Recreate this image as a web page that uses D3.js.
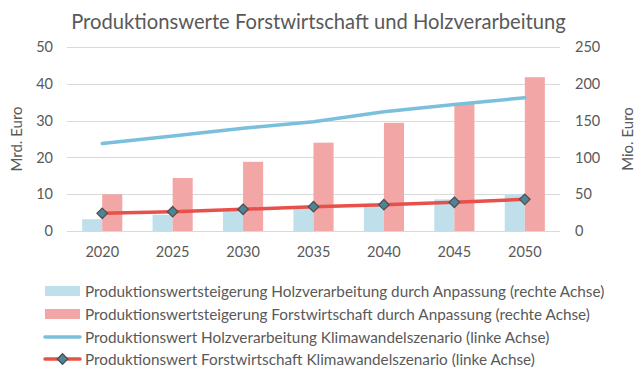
<!DOCTYPE html>
<html><head><meta charset="utf-8">
<script src="https://cdn.jsdelivr.net/npm/d3@7"></script>
<style>body{margin:0;background:#fff}svg{display:block}text{font-family:Lato,"Open Sans",sans-serif;fill:#595959}</style>
</head><body>
<script>
const years = ["2020","2025","2030","2035","2040","2045","2050"];
const holzBars = [16, 22, 28, 31, 37, 43, 50];
const forstBars = [50, 72, 94, 120, 147, 174, 209];
const holzLine = [23.8, 25.8, 27.9, 29.7, 32.4, 34.4, 36.2];
const forstLine = [4.8, 5.25, 5.9, 6.6, 7.15, 7.8, 8.6];
const leftTicks = [0,10,20,30,40,50];
const rightTicks = [0,50,100,150,200,250];
const legendLabels = [
 "Produktionswertsteigerung Holzverarbeitung durch Anpassung (rechte Achse)",
 "Produktionswertsteigerung Forstwirtschaft durch Anpassung (rechte Achse)",
 "Produktionswert Holzverarbeitung Klimawandelszenario (linke Achse)",
 "Produktionswert Forstwirtschaft Klimawandelszenario (linke Achse)"];

const W=644,H=379;
const svg=d3.select("body").append("svg").attr("width",W).attr("height",H);
const x0=67,x1=560,yTop=47,yBot=231;
const x=d3.scaleBand().domain(years).range([x0,x1]).paddingInner(0.43).paddingOuter(0.215);
const yL=d3.scaleLinear().domain([0,50]).range([yBot,yTop]);
const yR=d3.scaleLinear().domain([0,250]).range([yBot,yTop]);
const cx=d=>x(d)+x.bandwidth()/2;

svg.append("text").attr("x",318.5).attr("y",29).attr("text-anchor","middle").style("font-size","20.2px")
 .text("Produktionswerte Forstwirtschaft und Holzverarbeitung");

// grid
svg.append("g").selectAll("line").data(leftTicks).join("line")
 .attr("x1",x0).attr("x2",x1).attr("y1",d=>Math.round(yL(d))+0.5).attr("y2",d=>Math.round(yL(d))+0.5)
 .attr("stroke","#d9d9d9").attr("stroke-width",1);

// axes
const la=svg.append("g").attr("transform",`translate(${x0},0)`).call(d3.axisLeft(yL).tickValues(leftTicks).tickSize(0).tickPadding(14));
la.select(".domain").remove();
la.selectAll("text").style("font-size","14.5px").style("font-family","Lato").attr("fill","#595959");
const ra=svg.append("g").attr("transform",`translate(${x1},0)`).call(d3.axisRight(yR).tickValues(rightTicks).tickSize(0).tickPadding(15));
ra.select(".domain").remove();
ra.selectAll("text").style("font-size","14.5px").style("font-family","Lato").attr("fill","#595959");
const xa=svg.append("g").attr("transform",`translate(0,${yBot})`).call(d3.axisBottom(x).tickSize(0).tickPadding(16));
xa.select(".domain").remove();
xa.selectAll("text").style("font-size","14.5px").style("font-family","Lato").attr("fill","#595959");

svg.append("text").attr("transform",`translate(22,${(yTop+yBot)/2}) rotate(-90)`).attr("text-anchor","middle").style("font-size","15px").text("Mrd. Euro");
svg.append("text").attr("transform",`translate(633,${(yTop+yBot)/2}) rotate(-90)`).attr("text-anchor","middle").style("font-size","15px").text("Mio. Euro");

const bw=x.bandwidth()/2;
svg.append("g").selectAll("rect").data(years).join("rect")
 .attr("x",d=>x(d)).attr("width",bw).attr("y",(d,i)=>yR(holzBars[i])).attr("height",(d,i)=>yBot-yR(holzBars[i])).attr("fill","#bfe0eb");
svg.append("g").selectAll("rect").data(years).join("rect")
 .attr("x",d=>x(d)+bw).attr("width",bw).attr("y",(d,i)=>yR(forstBars[i])).attr("height",(d,i)=>yBot-yR(forstBars[i])).attr("fill","#f2a7a6");

const line=d3.line().x((d,i)=>cx(years[i])).y(d=>yL(d));
svg.append("path").datum(holzLine).attr("d",line).attr("fill","none").attr("stroke","#7ac0dc").attr("stroke-width",3.5).attr("stroke-linecap","round");
svg.append("path").datum(forstLine).attr("d",line).attr("fill","none").attr("stroke","#e8504a").attr("stroke-width",3.5).attr("stroke-linecap","round");
const diamond=d3.symbol().type(d3.symbolDiamond2).size(70);
svg.append("g").selectAll("path").data(forstLine).join("path").attr("d",diamond)
 .attr("transform",(d,i)=>`translate(${cx(years[i])},${yL(d)})`).attr("fill","#4f8497").attr("stroke","#505050").attr("stroke-width",1.3);

// legend
const lg=svg.append("g");
const rowsY=[291,314,337,359];
legendLabels.forEach((t,i)=>{
  const y=rowsY[i];
  if(i<2){lg.append("rect").attr("x",45).attr("y",y-5).attr("width",35).attr("height",10).attr("fill",i==0?"#bfe0eb":"#f2a7a6");}
  else{lg.append("line").attr("x1",45).attr("x2",80).attr("y1",y).attr("y2",y).attr("stroke",i==2?"#7ac0dc":"#e8504a").attr("stroke-width",3.5).attr("stroke-linecap","round");
    if(i==3) lg.append("path").attr("d",diamond).attr("transform",`translate(62.5,${y})`).attr("fill","#4f8497").attr("stroke","#505050").attr("stroke-width",1.3);}
  lg.append("text").attr("x",85).attr("y",y+5.5).style("font-size","15.3px").text(t);
});
</script>
</body></html>
